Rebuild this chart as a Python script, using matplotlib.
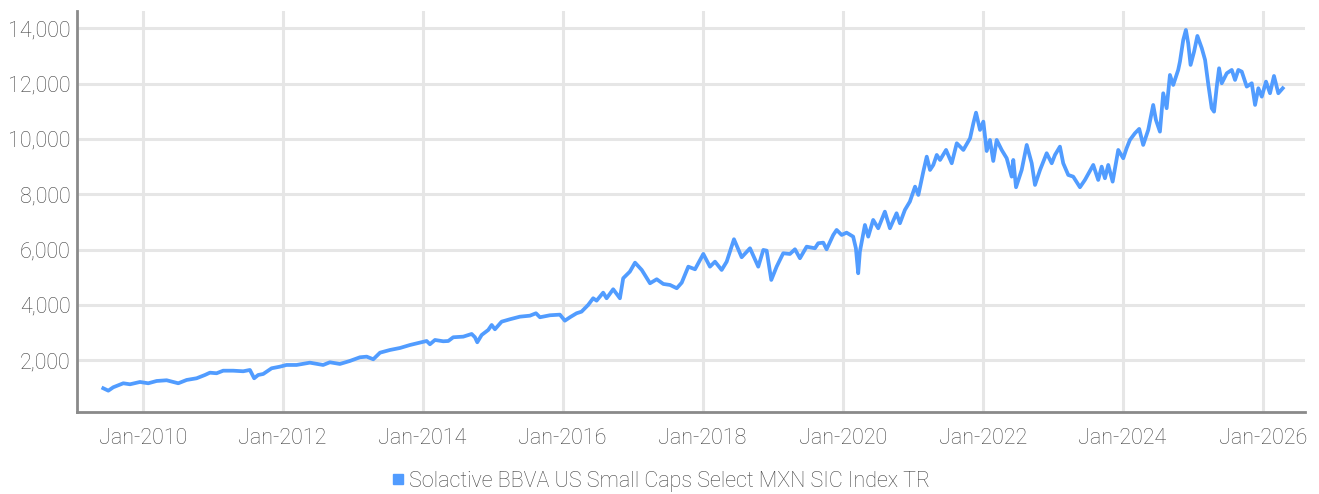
import matplotlib
matplotlib.use("Agg")
import matplotlib.pyplot as plt
import matplotlib.dates as mdates
from matplotlib.lines import Line2D
from datetime import datetime, timedelta

plt.rcParams['font.family'] = ['Roboto', 'DejaVu Sans']
plt.rcParams['font.weight'] = 'light'

SERIES_NAME = "Solactive BBVA US Small Caps Select MXN SIC Index TR"

# decimal years
t_years = [
    2009.437, 2009.509, 2009.580, 2009.723, 2009.819, 2009.961, 2010.080, 2010.200,
    2010.343, 2010.509, 2010.629, 2010.771, 2010.890, 2010.961, 2011.057, 2011.151,
    2011.294, 2011.437, 2011.533, 2011.594, 2011.651, 2011.723, 2011.771, 2011.843,
    2011.961, 2012.057, 2012.200, 2012.343, 2012.390, 2012.580, 2012.676, 2012.819,
    2012.961, 2013.104, 2013.200, 2013.294, 2013.390, 2013.533, 2013.676, 2013.819,
    2013.961, 2014.057, 2014.104, 2014.176, 2014.294, 2014.366, 2014.437, 2014.580,
    2014.700, 2014.747, 2014.780, 2014.843, 2014.937, 2014.986, 2015.033, 2015.129,
    2015.247, 2015.390, 2015.533, 2015.619, 2015.676, 2015.819, 2015.961, 2016.033,
    2016.110, 2016.200, 2016.271, 2016.319, 2016.366, 2016.437, 2016.486, 2016.580,
    2016.629, 2016.723, 2016.819, 2016.866, 2016.961, 2017.033, 2017.129, 2017.247,
    2017.343, 2017.437, 2017.533, 2017.629, 2017.700, 2017.794, 2017.890, 2018.009,
    2018.104, 2018.176, 2018.271, 2018.343, 2018.447, 2018.557, 2018.676, 2018.794,
    2018.866, 2018.914, 2018.980, 2019.057, 2019.151, 2019.247, 2019.319, 2019.390,
    2019.486, 2019.604, 2019.651, 2019.723, 2019.771, 2019.866, 2019.914, 2019.986,
    2020.057, 2020.151, 2020.190, 2020.223, 2020.247, 2020.319, 2020.366, 2020.437,
    2020.509, 2020.604, 2020.676, 2020.771, 2020.819, 2020.890, 2020.961, 2021.033,
    2021.080, 2021.151, 2021.200, 2021.247, 2021.294, 2021.343, 2021.390, 2021.476,
    2021.557, 2021.629, 2021.723, 2021.819, 2021.866, 2021.904, 2021.961, 2022.009,
    2022.057, 2022.104, 2022.151, 2022.200, 2022.271, 2022.343, 2022.414, 2022.437,
    2022.476, 2022.557, 2022.629, 2022.700, 2022.747, 2022.819, 2022.914, 2022.986,
    2023.033, 2023.104, 2023.151, 2023.223, 2023.294, 2023.390, 2023.461, 2023.580,
    2023.651, 2023.700, 2023.747, 2023.794, 2023.857, 2023.937, 2024.009, 2024.057,
    2024.104, 2024.176, 2024.237, 2024.294, 2024.366, 2024.437, 2024.476, 2024.533,
    2024.580, 2024.629, 2024.676, 2024.723, 2024.794, 2024.819, 2024.866, 2024.904,
    2024.937, 2024.971, 2025.019, 2025.066, 2025.129, 2025.176, 2025.223, 2025.271,
    2025.304, 2025.343, 2025.376, 2025.414, 2025.486, 2025.557, 2025.604, 2025.651,
    2025.700, 2025.771, 2025.843, 2025.890, 2025.937, 2025.986, 2026.047, 2026.104,
    2026.161, 2026.223, 2026.286,
]

index_values = [
    987, 900, 1023, 1167, 1131, 1214, 1167, 1250,
    1276, 1167, 1287, 1348, 1467, 1550, 1529, 1622,
    1622, 1601, 1648, 1348, 1467, 1503, 1587, 1709,
    1767, 1829, 1829, 1890, 1912, 1829, 1926, 1865,
    1973, 2107, 2129, 2035, 2273, 2371, 2443, 2551,
    2635, 2695, 2577, 2732, 2685, 2695, 2830, 2852,
    2949, 2830, 2649, 2913, 3094, 3274, 3119, 3394,
    3480, 3574, 3610, 3697, 3553, 3625, 3647, 3430,
    3560, 3697, 3755, 3878, 4000, 4239, 4153, 4442,
    4239, 4565, 4239, 4962, 5201, 5526, 5262, 4781,
    4926, 4756, 4720, 4601, 4803, 5381, 5287, 5840,
    5381, 5562, 5262, 5562, 6372, 5721, 6046, 5381,
    5985, 5960, 4901, 5381, 5866, 5840, 6010, 5685,
    6104, 6046, 6227, 6249, 6010, 6527, 6708, 6527,
    6610, 6466, 6046, 5143, 5924, 6888, 6466, 7069,
    6769, 7369, 6769, 7311, 6950, 7431, 7731, 8273,
    7973, 8815, 9357, 8876, 9057, 9418, 9237, 9599,
    9118, 9841, 9599, 10022, 10564, 10947, 10322, 10622,
    9560, 9960, 9200, 9960, 9599, 9299, 8634, 9237,
    8251, 8876, 9780, 9118, 8334, 8876, 9480, 9118,
    9418, 9718, 9118, 8695, 8634, 8251, 8515, 9057,
    8515, 8996, 8576, 9057, 8453, 9599, 9299, 9660,
    9960, 10202, 10360, 9780, 10322, 11225, 10683, 10260,
    11648, 11106, 12309, 11948, 12490, 12790, 13574, 13936,
    13455, 12671, 13152, 13719, 13274, 12851, 11948, 11106,
    10983, 11888, 12551, 12009, 12370, 12490, 12129, 12490,
    12429, 11888, 12009, 11225, 11829, 11525, 12068, 11648,
    12273, 11648, 11829,
]

y_ticks = [2000, 4000, 6000, 8000, 10000, 12000, 14000]
x_tick_years = [2010, 2012, 2014, 2016, 2018, 2020, 2022, 2024, 2026]


def to_date(t):
    y = int(t)
    return datetime(y, 1, 1) + timedelta(days=(t - y) * 365.25)


dates = [to_date(t) for t in t_years]

LINE_COLOR = '#519cff'
TEXT_COLOR = '#444444'
GRID_COLOR = '#e6e6e6'
SPINE_COLOR = '#8a8a8a'
FS = 15.5

fig = plt.figure(figsize=(13.19, 4.94), dpi=100)
ax = fig.add_axes([77.3 / 1319, (494 - 411.7) / 494, (1305 - 77.3) / 1319, (411.7 - 11) / 494])

ax.plot(dates, index_values, color=LINE_COLOR, linewidth=2.7, solid_joinstyle='round', zorder=3)

ax.set_ylim(140, 14620)
ax.set_xlim(to_date(2009.066), to_date(2026.604))

ax.set_yticks(y_ticks)
ax.set_yticklabels([f"{v:,}" for v in y_ticks])
ax.set_xticks([datetime(y, 1, 1) for y in x_tick_years])
ax.xaxis.set_major_formatter(mdates.DateFormatter('%b-%Y'))

ax.grid(True, color=GRID_COLOR, linewidth=2.2, zorder=0)
ax.set_axisbelow(True)

for s in ['top', 'right']:
    ax.spines[s].set_visible(False)
for s in ['left', 'bottom']:
    ax.spines[s].set_color(SPINE_COLOR)
    ax.spines[s].set_linewidth(2)

ax.tick_params(axis='both', length=0, labelsize=FS, colors=TEXT_COLOR)
ax.tick_params(axis='y', pad=5)
ax.tick_params(axis='x', pad=12)

handle = Line2D([], [], marker='s', linestyle='none', color=LINE_COLOR, markersize=7)
fig.legend([handle], [SERIES_NAME], loc='center', bbox_to_anchor=(0.5, 1 - 481 / 494),
           frameon=False, fontsize=FS, labelcolor=TEXT_COLOR, handletextpad=0.1,
           handlelength=0.8)

fig.savefig('out.png', dpi=100)
